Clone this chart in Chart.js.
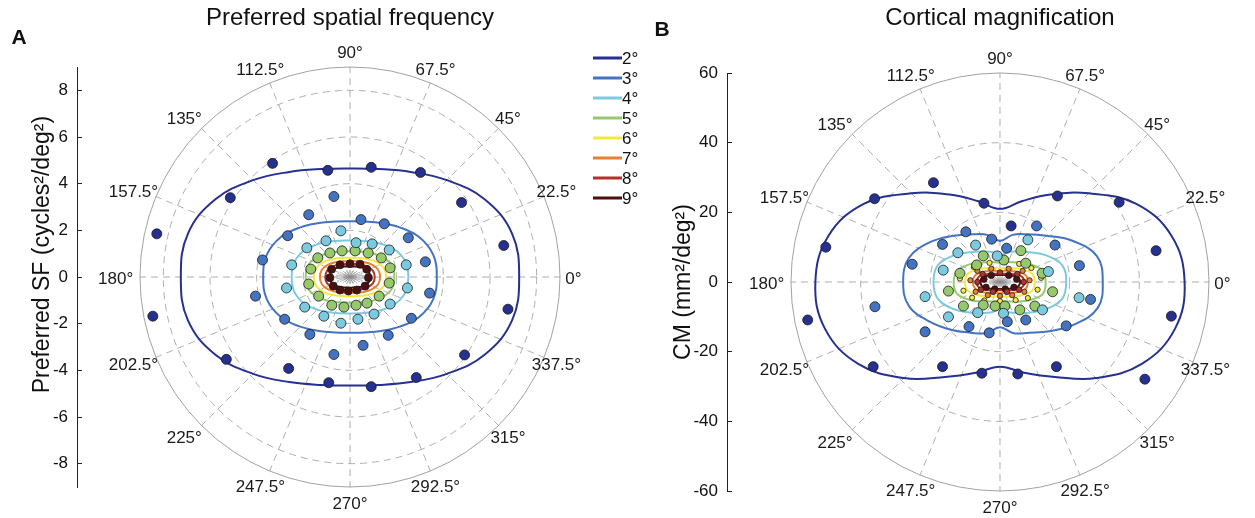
<!DOCTYPE html>
<html>
<head>
<meta charset="utf-8">
<script src="https://cdn.jsdelivr.net/npm/chart.js@4.4.1/dist/chart.umd.min.js"></script>
<style>
  html, body { margin: 0; padding: 0; background: #fff; overflow: hidden; }
  body { width: 1255px; height: 518px; position: relative; }
  #sfChart { position: absolute; left: 0; top: 0; }
  #cmChart { position: absolute; left: 640px; top: 0; }
</style>
</head>
<body>
<canvas id="sfChart" width="700" height="518"></canvas>
<canvas id="cmChart" width="720" height="518"></canvas>
<script>
const FONT = '"Liberation Sans", Arial, Helvetica, sans-serif';

// polar angle (deg) at which every iso-eccentricity curve is read
const angles = [0, 15, 30, 45, 60, 75, 90, 105, 120, 135, 150, 165,
                180, 195, 210, 225, 240, 255, 270, 285, 300, 315, 330, 345];
const angleTicks = [0, 22.5, 45, 67.5, 90, 112.5, 135, 157.5,
                    180, 202.5, 225, 247.5, 270, 292.5, 315, 337.5];
const eccLabels = ['2°', '3°', '4°', '5°', '6°', '7°', '8°', '9°'];
const eccColors = ['#26308f', '#4473c2', '#7ccadf', '#96c86c',
                   '#f3e840', '#ea7f2e', '#b1322b', '#4a0f0f'];

const sfTicks = [-8, -6, -4, -2, 0, 2, 4, 6, 8];
const sfRings = [2, 4, 6, 8];
const sfMax = 9;
const cmTicks = [-60, -40, -20, 0, 20, 40, 60];
const cmRings = [20, 40];
const cmMax = 60;

// A: preferred SF (cycles²/deg²), curve radius at each angle
const sfCurve2 = [7.25, 7.19, 6.66, 5.87, 5.20, 4.79, 4.65, 4.79, 5.20, 5.87, 6.66, 7.19,
                  7.25, 7.19, 6.66, 5.87, 5.20, 4.79, 4.65, 4.79, 5.20, 5.87, 6.66, 7.19];
const sfCurve3 = [3.72, 3.69, 3.42, 3.01, 2.67, 2.46, 2.39, 2.46, 2.67, 3.01, 3.42, 3.69,
                  3.72, 3.69, 3.42, 3.01, 2.67, 2.46, 2.39, 2.46, 2.67, 3.01, 3.42, 3.69];
const sfCurve4 = [2.50, 2.47, 2.27, 1.98, 1.75, 1.61, 1.56, 1.61, 1.75, 1.98, 2.27, 2.47,
                  2.50, 2.47, 2.27, 1.98, 1.75, 1.61, 1.56, 1.61, 1.75, 1.98, 2.27, 2.47];
const sfCurve5 = [1.90, 1.87, 1.67, 1.42, 1.24, 1.13, 1.10, 1.13, 1.24, 1.42, 1.67, 1.87,
                  1.90, 1.87, 1.67, 1.42, 1.24, 1.13, 1.10, 1.13, 1.24, 1.42, 1.67, 1.87];
const sfCurve6 = [1.55, 1.50, 1.30, 1.08, 0.93, 0.85, 0.82, 0.85, 0.93, 1.08, 1.30, 1.50,
                  1.55, 1.50, 1.30, 1.08, 0.93, 0.85, 0.82, 0.85, 0.93, 1.08, 1.30, 1.50];
const sfCurve7 = [1.29, 1.24, 1.07, 0.89, 0.77, 0.70, 0.68, 0.70, 0.77, 0.89, 1.07, 1.24,
                  1.29, 1.24, 1.07, 0.89, 0.77, 0.70, 0.68, 0.70, 0.77, 0.89, 1.07, 1.24];
const sfCurve8 = [1.06, 1.02, 0.88, 0.74, 0.63, 0.58, 0.56, 0.58, 0.63, 0.74, 0.88, 1.02,
                  1.06, 1.02, 0.88, 0.74, 0.63, 0.58, 0.56, 0.58, 0.63, 0.74, 0.88, 1.02];
const sfCurve9 = [0.87, 0.84, 0.73, 0.60, 0.52, 0.47, 0.46, 0.47, 0.52, 0.60, 0.73, 0.84,
                  0.87, 0.84, 0.73, 0.60, 0.52, 0.47, 0.46, 0.47, 0.52, 0.60, 0.73, 0.84];

// A: measured points [x, y]
const sfDots2 = [[-3.32, 4.87], [-0.95, 4.57], [0.91, 4.70], [3.02, 4.48], [4.78, 3.19],
                 [6.59, 1.35], [6.77, -1.38], [4.91, -3.34], [2.84, -4.31], [0.91, -4.70],
                 [-0.91, -4.53], [-2.63, -3.92], [-5.30, -3.53], [-8.45, -1.68], [-8.28, 1.85],
                 [-5.13, 3.40]];
const sfDots3 = [[-0.69, 3.45], [-1.77, 2.67], [0.47, 2.46], [1.47, 2.28], [-2.67, 1.77],
                 [2.50, 1.68], [-3.75, 0.73], [3.23, 0.65], [-4.05, -0.82], [3.41, -0.69],
                 [-2.80, -1.81], [2.63, -1.77], [-1.72, -2.46], [1.64, -2.50], [-0.69, -3.32],
                 [0.56, -2.93]];
const sfDots4 = [[-0.39, 1.98], [-1.03, 1.55], [0.26, 1.47], [0.95, 1.42], [-1.85, 1.25],
                 [1.68, 1.16], [-2.50, 0.52], [2.41, 0.52], [-2.72, -0.47], [2.46, -0.47],
                 [-1.94, -1.29], [1.72, -1.16], [-1.12, -1.68], [1.03, -1.59], [-0.39, -1.98],
                 [0.34, -1.81]];
const sfDots5 = [[-1.68, 0.34], [-1.77, -0.30], [-1.34, -0.82], [-0.78, -1.21], [-0.26, -1.29],
                 [0.26, -1.21], [0.73, -1.12], [1.25, -0.82], [1.68, -0.26], [1.72, 0.39],
                 [1.34, 0.82], [0.78, 1.03], [0.22, 1.12], [-0.34, 1.12], [-0.86, 1.03],
                 [-1.38, 0.82]];
const sfDots9 = [[-0.79, 0.33], [-0.86, -0.03], [-0.72, -0.39], [-0.43, -0.56], [-0.07, -0.60],
                 [0.29, -0.56], [0.65, -0.39], [0.79, -0.03], [0.72, 0.33], [0.43, 0.55],
                 [0.00, 0.57], [-0.43, 0.52]];

// B: cortical magnification (mm²/deg²), curve radius at each angle
const cmCurve2 = [53.0, 51.0, 45.0, 36.0, 29.0, 24.0, 21.0, 24.0, 29.0, 36.0, 45.0, 51.0,
                  53.0, 52.0, 47.0, 39.0, 31.5, 27.0, 24.3, 27.0, 31.5, 39.0, 47.0, 52.0];
const cmCurve3 = [29.5, 28.8, 23.8, 18.8, 15.8, 14.0, 11.8, 14.0, 15.8, 18.8, 23.0, 27.0,
                  27.8, 27.0, 23.0, 19.5, 16.8, 15.2, 13.0, 15.2, 16.8, 20.0, 24.5, 29.0];
const cmCurve4 = [19.0, 18.5, 15.3, 12.1, 10.1, 8.9, 7.6, 8.9, 10.1, 12.1, 15.3, 18.5,
                  19.1, 18.5, 15.5, 12.4, 10.3, 9.0, 7.8, 9.0, 10.3, 12.4, 15.5, 18.5];
const cmCurve5 = [13.1, 12.65, 10.1, 7.85, 6.55, 5.9, 5.5, 5.9, 6.55, 7.85, 10.1, 12.65,
                  13.3, 12.8, 10.2, 7.9, 6.5, 5.8, 5.5, 5.8, 6.5, 7.9, 10.2, 12.8];
const cmCurve6 = [10.0, 9.5, 7.3, 5.55, 4.6, 4.15, 3.9, 4.15, 4.6, 5.55, 7.3, 9.5,
                  10.0, 9.6, 7.5, 5.8, 4.8, 4.3, 4.1, 4.3, 4.8, 5.8, 7.5, 9.6];
const cmCurve7 = [8.0, 7.6, 5.8, 4.4, 3.7, 3.3, 3.2, 3.3, 3.7, 4.4, 5.8, 7.4,
                  7.8, 7.4, 5.8, 4.4, 3.7, 3.3, 3.2, 3.3, 3.7, 4.4, 5.8, 7.6];
const cmCurve8 = [7.0, 6.34, 4.5, 3.35, 2.76, 2.48, 2.4, 2.48, 2.76, 3.35, 4.5, 6.2,
                  6.7, 6.2, 4.5, 3.35, 2.76, 2.48, 2.4, 2.48, 2.76, 3.35, 4.5, 6.34];
const cmCurve9 = [5.8, 5.28, 3.75, 2.79, 2.3, 2.07, 2.0, 2.07, 2.3, 2.79, 3.75, 5.2,
                  5.6, 5.2, 3.75, 2.79, 2.3, 2.07, 2.0, 2.07, 2.3, 2.79, 3.75, 5.28];

// B: measured points [x, y]
const cmDots2 = [[-19.1, 28.5], [-36.0, 23.9], [-4.6, 22.6], [16.5, 24.7], [34.2, 22.9],
                 [-50.0, 10.0], [44.8, 9.0], [-55.2, -10.9], [49.2, -9.8], [-36.4, -24.3],
                 [-16.5, -24.3], [-5.2, -26.2], [5.1, -26.4], [16.2, -24.3], [41.6, -27.9],
                 [3.2, 16.1]];
const cmDots3 = [[-9.8, 14.4], [10.5, 16.1], [-16.5, 10.8], [15.8, 10.6], [1.9, 9.7],
                 [-2.4, 12.3], [-25.2, 5.1], [22.8, 4.7], [26.0, -5.0], [-35.9, -7.1],
                 [-21.5, -14.3], [-8.9, -12.8], [-3.1, -14.6], [2.1, -11.4], [7.4, -10.9],
                 [19.0, -12.6]];
const cmDots4 = [[-7.0, 10.6], [8.0, 12.1], [-12.1, 8.4], [-0.8, 7.5], [-16.3, 3.4],
                 [13.9, 3.0], [-21.5, -4.2], [22.7, -4.5], [-14.8, -10.0], [-6.4, -8.8],
                 [12.2, -8.0], [1.0, -9.0]];
const cmDots5 = [[-4.8, 7.5], [1.1, 6.3], [6.0, 9.0], [7.4, 5.4], [-6.7, 4.9], [-14.8, -2.6],
                 [15.1, -2.8], [-10.5, -6.9], [-4.8, -6.6], [-1.4, -6.9], [1.4, -6.9],
                 [5.7, -8.0], [10.0, -6.9], [-11.5, 2.5], [12.1, 2.5]];
const cmDots6 = [[-11.5, 1.0], [-10.5, -2.5], [-8.0, -4.5], [-4.5, -5.3], [0.0, -5.5],
                 [4.5, -5.2], [8.0, -4.6], [10.8, -2.2], [11.8, 1.2], [9.0, 4.0], [5.5, 5.2],
                 [1.5, 5.8], [-3.0, 5.5], [-7.5, 4.3]];
const cmDots7 = [[-8.5, 0.5], [-7.0, -2.8], [-3.5, -3.8], [0.0, -4.0], [3.5, -3.8],
                 [7.0, -2.8], [8.5, 0.5], [6.5, 3.2], [2.5, 3.8], [-2.5, 3.8], [-6.5, 3.2]];
const cmDots8 = [[-6.5, 0.0], [-5.5, -2.2], [-2.0, -2.8], [2.0, -2.8], [5.5, -2.2],
                 [6.8, 0.0], [5.0, 2.3], [0.0, 2.7], [-5.0, 2.3]];
const cmDots9 = [[-4.6, 0.8], [-4.0, -1.5], [-1.5, -2.0], [1.5, -2.0], [4.0, -1.5],
                 [4.8, 0.8], [2.5, 1.9], [-2.5, 1.9]];

function closedCurve(radii) {
  const pts = radii.map((r, i) => {
    const t = angles[i] * Math.PI / 180;
    return { x: r * Math.cos(t), y: r * Math.sin(t) };
  });
  // wrap around one extra point each side; the two end segments are hidden below
  return [pts[pts.length - 1], ...pts, pts[0], pts[1]];
}

function buildDatasets(curves, dots, sizes) {
  const ds = [];
  curves.forEach((c, i) => {
    const data = closedCurve(c);
    const last = data.length - 1;
    ds.push({
      label: eccLabels[i], data, showLine: true,
      borderColor: eccColors[i], borderWidth: 2, pointRadius: 0, tension: 0.4, order: 2,
      segment: {
        borderColor: s => (s.p0DataIndex === 0 || s.p1DataIndex === last) ? 'rgba(0,0,0,0)' : undefined
      }
    });
  });
  dots.forEach((d, i) => {
    if (!d) return;
    ds.push({
      label: eccLabels[i] + ' data', data: d.map(([x, y]) => ({ x, y })), showLine: false,
      pointRadius: sizes[i], backgroundColor: eccColors[i], borderColor: '#1b1b1b',
      borderWidth: 0.8, order: 1
    });
  });
  return ds;
}

const polarGrid = {
  id: 'polarGrid',
  beforeDatasetsDraw(chart, args, opts) {
    const { ctx, scales: { x, y } } = chart;
    const cx = x.getPixelForValue(0), cy = y.getPixelForValue(0);
    const px = v => x.getPixelForValue(v) - cx;
    const py = v => cy - y.getPixelForValue(v);
    const R = px(opts.max);
    ctx.save();
    ctx.strokeStyle = '#9a9a9a';
    ctx.lineWidth = 0.8;
    ctx.setLineDash([7, 5]);
    opts.rings.forEach(r => {
      ctx.beginPath(); ctx.arc(cx, cy, px(r), 0, 2 * Math.PI); ctx.stroke();
    });
    angleTicks.forEach(a => {
      const t = a * Math.PI / 180;
      ctx.beginPath(); ctx.moveTo(cx, cy);
      ctx.lineTo(cx + R * Math.cos(t), cy - R * Math.sin(t)); ctx.stroke();
    });
    ctx.setLineDash([]);
    ctx.strokeStyle = '#8a8a8a';
    ctx.beginPath(); ctx.arc(cx, cy, R, 0, 2 * Math.PI); ctx.stroke();
    // little starburst in the middle
    ctx.strokeStyle = '#8c8c8c'; ctx.lineWidth = 0.6;
    for (let k = 0; k < 24; k++) {
      const t = k * Math.PI / 12;
      ctx.beginPath(); ctx.moveTo(cx, cy);
      ctx.lineTo(cx + px(opts.burst[0]) * Math.cos(t), cy - py(opts.burst[1]) * Math.sin(t));
      ctx.stroke();
    }
    ctx.fillStyle = '#1a1a1a';
    ctx.font = '17px ' + FONT;
    ctx.textAlign = 'center';
    ctx.textBaseline = 'middle';
    angleTicks.forEach(a => {
      const t = a * Math.PI / 180;
      const c = Math.cos(t), s = Math.sin(t);
      ctx.fillText(a + '°', cx + 1.09 * R * c - 5.5 * Math.abs(c), cy - 1.075 * R * s + 2);
    });
    ctx.restore();
  }
};

const panelTag = {
  id: 'panelTag',
  afterDraw(chart, args, opts) {
    const { ctx } = chart;
    ctx.save();
    ctx.font = 'bold 21px ' + FONT;
    ctx.fillStyle = '#111';
    ctx.textAlign = 'center';
    ctx.textBaseline = 'middle';
    ctx.fillText(opts.text, opts.x, opts.y);
    ctx.restore();
  }
};

const eccLegend = {
  id: 'eccLegend',
  afterDraw(chart, args, opts) {
    if (!opts.show) return;
    const { ctx } = chart;
    const items = chart.data.datasets.filter(d => d.showLine);
    ctx.save();
    ctx.font = '17px ' + FONT;
    ctx.textBaseline = 'middle';
    ctx.fillStyle = '#111';
    items.forEach((d, i) => {
      const yy = opts.top + i * opts.gap;
      ctx.strokeStyle = d.borderColor;
      ctx.lineWidth = 3;
      ctx.beginPath(); ctx.moveTo(opts.left, yy); ctx.lineTo(opts.left + 29, yy); ctx.stroke();
      ctx.fillText(d.label, opts.left + 29, yy + 1);
    });
    ctx.restore();
  }
};

function panelOptions(cfg) {
  return {
    responsive: false,
    animation: false,
    events: [],
    layout: { autoPadding: false, padding: { left: 0, right: 0, top: 0, bottom: cfg.padBottom } },
    plugins: {
      legend: { display: false },
      tooltip: { enabled: false },
      title: {
        display: true, text: cfg.title, color: '#111',
        font: { family: FONT, size: 24, weight: 'normal' },
        padding: { top: 4, bottom: cfg.titleGap }
      },
      polarGrid: { rings: cfg.rings, max: cfg.max, burst: cfg.burst },
      panelTag: cfg.tag,
      eccLegend: cfg.legend
    },
    scales: {
      x: { type: 'linear', display: false, min: cfg.xMin, max: cfg.xMax },
      y: {
        type: 'linear', position: 'left', min: -cfg.max, max: cfg.max,
        afterFit: s => { s.width = cfg.axisWidth; },
        afterBuildTicks: s => { s.ticks = cfg.ticks.map(v => ({ value: v })); },
        grid: { drawOnChartArea: false, tickLength: -5, color: '#222', lineWidth: 1 },
        border: { display: true, color: '#222', width: 1 },
        ticks: { padding: 14, color: '#111', font: { family: FONT, size: 17 } },
        title: {
          display: true, text: cfg.yTitle, color: '#111',
          font: { family: FONT, size: 23 }, padding: { top: cfg.yTitlePad, bottom: 0 }
        }
      }
    }
  };
}

new Chart(document.getElementById('sfChart'), {
  type: 'scatter',
  data: {
    datasets: buildDatasets(
      [sfCurve2, sfCurve3, sfCurve4, sfCurve5, sfCurve6, sfCurve7, sfCurve8, sfCurve9],
      [sfDots2, sfDots3, sfDots4, sfDots5, null, null, null, sfDots9],
      [5, 5, 5, 5, 3, 3, 3, 4])
  },
  options: panelOptions({
    title: 'Preferred spatial frequency',
    yTitle: '       Preferred SF (cycles²/deg²)',
    ticks: sfTicks, rings: sfRings, max: sfMax, xMin: -11.7, xMax: 15.0, burst: [0.62, 0.3],
    axisWidth: 77, padBottom: 31, titleGap: 34.2, yTitlePad: 29,
    tag: { text: 'A', x: 19, y: 38 },
    legend: { show: true, left: 593, top: 58, gap: 20 }
  }),
  plugins: [polarGrid, panelTag, eccLegend]
});

new Chart(document.getElementById('cmChart'), {
  type: 'scatter',
  data: {
    datasets: buildDatasets(
      [cmCurve2, cmCurve3, cmCurve4, cmCurve5, cmCurve6, cmCurve7, cmCurve8, cmCurve9],
      [cmDots2, cmDots3, cmDots4, cmDots5, cmDots6, cmDots7, cmDots8, cmDots9],
      [5, 5, 5, 5, 2.6, 2.6, 2.8, 3.2])
  },
  options: panelOptions({
    title: 'Cortical magnification', yTitle: 'CM (mm²/deg²)',
    ticks: cmTicks, rings: cmRings, max: cmMax, xMin: -78.37, xMax: 103.35, burst: [3.3, 1.3],
    axisWidth: 87, padBottom: 27, titleGap: 40.2, yTitlePad: 30,
    tag: { text: 'B', x: 22, y: 30 },
    legend: { show: false }
  }),
  plugins: [polarGrid, panelTag, eccLegend]
});
</script>
</body>
</html>
